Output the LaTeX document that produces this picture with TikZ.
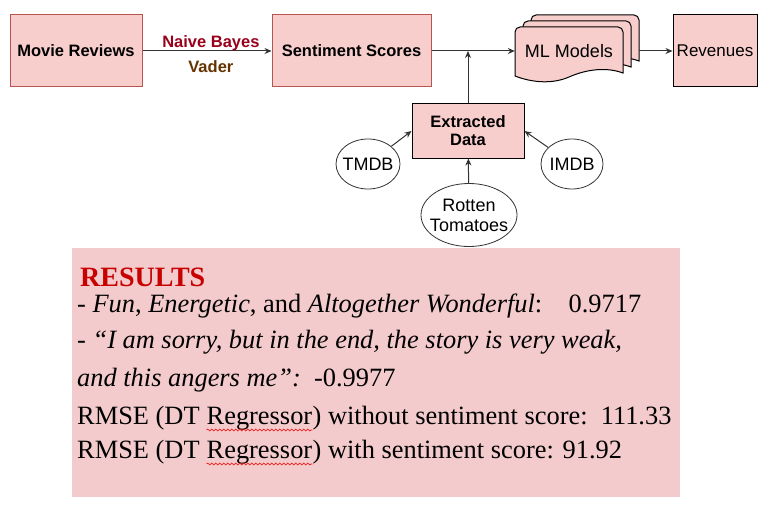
\documentclass[tikz,border=0pt]{standalone}
\usepackage{fontspec}
\setmainfont{Liberation Serif}
\newfontfamily\diagfont{Liberation Sans}
\usepackage{xcolor}
\usetikzlibrary{arrows.meta, positioning, shapes.geometric, decorations.pathmorphing}

\definecolor{boxpink}{HTML}{F8CECC}
\definecolor{boxedge}{HTML}{B85450}
\definecolor{respink}{HTML}{F4CBCC}
\definecolor{nbred}{HTML}{99001A}
\definecolor{vaderbrown}{HTML}{663300}
\definecolor{resred}{HTML}{C80000}
\definecolor{linegray}{HTML}{333333}

\newcommand{\squeeze}[1]{\makebox[0pt]{#1}}

\begin{document}
\begin{tikzpicture}[
    x=1pt, y=-1pt,
    box/.style={draw=boxedge, fill=boxpink, line width=1pt, align=center, minimum height=72pt, inner sep=0pt, font=\diagfont\bfseries\fontsize{16.5}{18}\selectfont},
    source/.style={ellipse, draw=black!80, fill=white, line width=0.8pt, inner sep=0pt, align=center, font=\diagfont\fontsize{18}{20}\selectfont},
    page/.style={draw=black, fill=boxpink, line width=1pt},
    arrow/.style={-{Stealth[length=7pt, width=6pt]}, draw=linegray, line width=1pt},
    resline/.style={anchor=base west, inner sep=0pt, font=\fontsize{26.4}{28}\selectfont},
    spell/.style={draw=red, line width=0.6pt, decorate, decoration={snake, amplitude=1pt, segment length=4pt}}
  ]
    \useasboundingbox (0,0) rectangle (778,508);
    % top row
    \node[box, minimum width=132pt] (reviews) at (76,51) {Movie Reviews};
    \node[box, minimum width=159pt] (scores) at (351.5,51) {Sentiment Scores};
    \foreach \dx/\dy in {16/-12, 8/-6, 0/0}
      \draw[page, shift={(515+\dx,27+\dy)}] (0,49) [rounded corners=5pt]-- (0,0) -- (108,0) [sharp corners]-- (108,46)
        .. controls (92,40) and (72,42) .. (54,50) .. controls (38,57) and (18,56) .. (0,49) -- cycle;
    \node[minimum width=108pt, minimum height=50pt, inner sep=0pt, font=\diagfont\fontsize{18}{20}\selectfont] (models) at (569,51) {ML Models};
    \coordinate (stackedge) at (639,51);
    \node[box, draw=black, minimum width=84pt, font=\diagfont\fontsize{17}{20}\selectfont] (revenues) at (715,51) {Revenues};
    % data sources
    \node[box, draw=black, minimum width=112pt, minimum height=54pt] (extracted) at (468,131) {Extracted\\Data};
    \node[source, minimum width=64pt, minimum height=50pt] (tmdb) at (368,164) {\squeeze{TMDB}};
    \node[source, minimum width=62pt, minimum height=50pt] (imdb) at (572,164) {\squeeze{IMDB}};
    \node[source, minimum width=96pt, minimum height=63pt] (rotten) at (469,215) {\squeeze{Rotten}\\\squeeze{Tomatoes}};
    \coordinate (join) at (extracted.north |- scores.east);
    \draw[arrow] (reviews) -- node[pos=0.53, above=-1pt, inner sep=1pt, text=nbred, font=\diagfont\bfseries\fontsize{16.5}{18}\selectfont] (nb) {Naive Bayes}
      node[pos=0.53, below=8pt, inner sep=1pt, text=vaderbrown, font=\diagfont\bfseries\fontsize{16.5}{18}\selectfont] (vader) {Vader} (scores);
    \draw[arrow] (scores) -- (models);
    \draw[arrow] (stackedge) -- (revenues);
    \draw[arrow] (extracted) -- (join);
    \draw[arrow] (tmdb) -- (extracted.west);
    \draw[arrow] (imdb) -- (extracted.east);
    \draw[arrow] (rotten) -- (extracted);
    % results panel
    \node[fill=respink, minimum width=608pt, minimum height=249pt, anchor=north west, inner sep=0pt] (results) at (72,248) {};
    \node[resline, font=\bfseries\fontsize{28}{28}\selectfont, text=resred] (title) at (80,286) {RESULTS};
    \node[resline] (line1) at (77,312) {- \textit{Fun}, \textit{Energetic}, and \textit{Altogether Wonderful}:\hspace{1em}0.9717};
    \node[resline] (line2) at (77,348) {- \textit{“I am sorry, but in the end, the story is very weak,}};
    \node[resline] (line3) at (77,386) {\textit{and this angers me”:}\hspace{0.5em}-0.9977};
    \node[resline] (line4) at (77,424) {RMSE (DT};
    \node[resline] (reg4) at ([xshift=6.6pt]line4.base east) {Regressor};
    \node[resline] (rest4) at (reg4.base east) {) without sentiment score:\hspace{0.5em}111.33};
    \node[resline] (line5) at (77,458) {RMSE (DT};
    \node[resline] (reg5) at ([xshift=6.6pt]line5.base east) {Regressor};
    \node[resline] (rest5) at (reg5.base east) {) with sentiment score: 91.92};
    \draw[spell] ([yshift=-6pt]reg4.base west) -- ([yshift=-6pt]reg4.base east);
    \draw[spell] ([yshift=-6pt]reg5.base west) -- ([yshift=-6pt]reg5.base east);
  \end{tikzpicture}
\end{document}
